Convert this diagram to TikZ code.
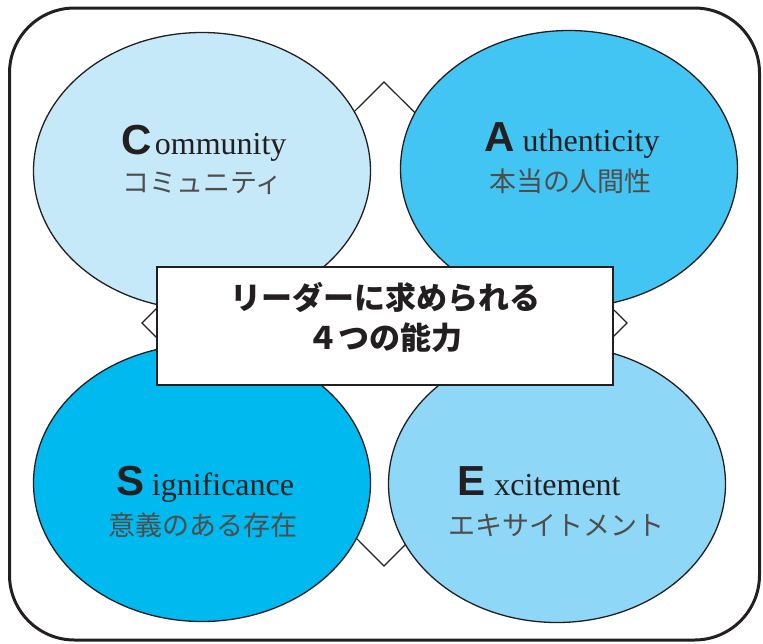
\documentclass[tikz,border=0pt]{standalone}
\usepackage{xcolor}
\usepackage{fontspec}
\usepackage{tikz}
\usetikzlibrary{shapes.geometric}
\newfontfamily\jpfont{Noto Sans CJK JP}
\newfontfamily\capfont{Liberation Sans}
\newfontfamily\wordfont{Liberation Serif}
\definecolor{ink}{HTML}{231F20}
\definecolor{comblue}{HTML}{C6E9F9}
\definecolor{autblue}{HTML}{42C5F2}
\definecolor{sigblue}{HTML}{00B9EF}
\definecolor{excblue}{HTML}{8ED7F6}
\newcommand\capletter[1]{{\capfont\bfseries\fontsize{42}{42}\selectfont #1}}
\tikzset{
	bubble/.style={ellipse,draw=ink,line width=1.3pt,minimum width=337pt,minimum height=277pt,inner sep=0pt},
	word/.style={anchor=base,text=ink,inner sep=0pt,font=\wordfont\fontsize{32}{32}\selectfont},
	kana/.style={text=ink!80,inner sep=0pt,font=\jpfont\fontsize{27}{30}\selectfont}
}

\begin{document}
\begin{tikzpicture}[x=1pt,y=-1pt]
		\useasboundingbox (0,0) rectangle (763,643);
		\draw [ink,line width=3pt,rounded corners=65pt] (9.5,8) rectangle (759.5,640);
		% diamond behind the four bubbles
		\coordinate (dt) at (384,82);
		\coordinate (dr) at (627,323);
		\coordinate (db) at (384,566);
		\coordinate (dl) at (142,323);
		\draw [ink,line width=1.2pt,fill=white] (dt) -- (dr) -- (db) -- (dl) -- cycle;
		\node [bubble,fill=comblue] (com) at (202,171) {};
		\node [bubble,fill=autblue] (aut) at (569,169) {};
		\node [bubble,fill=sigblue] (sig) at (202,483) {};
		\node [bubble,fill=excblue] (exc) at (557,484) {};
		\node [word] (comword) at (204,154) {\capletter{C}\hspace{3pt}ommunity};
		\node [kana] (comjp) at (202.5,183) {コミュニティ};
		\node [word] (autword) at (572,151) {\capletter{A}\hspace{8pt}uthenticity};
		\node [kana] (autjp) at (570,181) {本当の人間性};
		\node [word] (sigword) at (205.5,495) {\capletter{S}\hspace{7pt}ignificance};
		\node [kana] (sigjp) at (203,525) {意義のある存在};
		\node [word] (excword) at (539,495) {\capletter{E}\hspace{9pt}xcitement};
		\node [kana] (excjp) at (556,525) {エキサイトメント};
		% title box
		\node [draw=ink,line width=1.5pt,fill=white,minimum width=456pt,minimum height=118pt] (title) at (385,326) {};
		\node [align=center,text=ink,font=\jpfont\bfseries\fontsize{31}{40}\selectfont] (titletext) at (385,317) {リーダーに求められる\\４つの能力};
\end{tikzpicture}
\end{document}
